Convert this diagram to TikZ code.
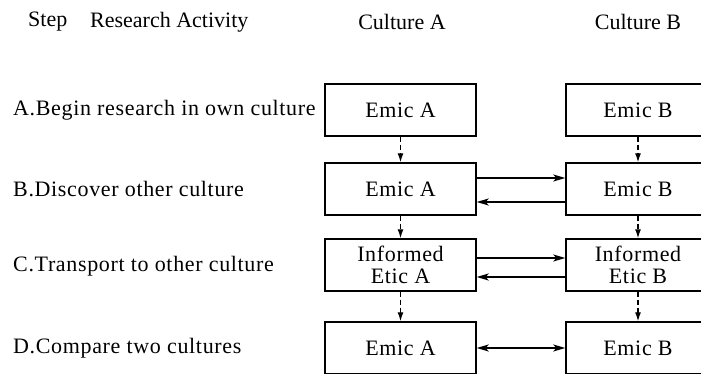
\documentclass[tikz,border=0pt]{standalone}
\usepackage{fontspec}
\setmainfont{Liberation Serif}
\newfontfamily\tms[LetterSpace=3]{Liberation Serif}
\newfontfamily\tmsh{Liberation Serif}
\usetikzlibrary{arrows.meta}
\begin{document}
\begin{tikzpicture}[x=1pt,y=-1pt,
  every node/.style={font=\tms\fontsize{22}{22}\selectfont, inner sep=0pt},
  head/.style={font=\tmsh\fontsize{22}{22}\selectfont},
  box/.style={draw, line width=1.4pt, minimum height=52pt, align=center},
  boxa/.style={box, minimum width=151pt},
  boxb/.style={box, minimum width=144pt},
  lbl/.style={anchor=west},
  down/.style={line width=1.3pt, dash pattern=on 5pt off 3pt, -{Latex[length=9pt,width=6pt]}},
  side/.style={line width=1.4pt, -{Stealth[length=12pt,width=7pt,inset=3pt]}},
  both/.style={line width=1.4pt, {Stealth[length=12pt,width=7pt,inset=3pt]}-{Stealth[length=12pt,width=7pt,inset=3pt]}}]
\useasboundingbox (0,0) rectangle (701,374);
\clip (0,0) rectangle (701,374);
% header
\node[head, anchor=west] (hstep) at (28,22) {Step};
\node[head, anchor=west] (hact) at (90,22) {Research Activity};
\node[head] (hca) at (402,22) {Culture A};
\node[head] (hcb) at (638,22) {Culture B};
% step labels
\node[lbl] (la) at (13,110) {A.Begin research in own culture};
\node[lbl] (lb) at (13,189) {B.Discover other culture};
\node[lbl] (lc) at (13,266) {C.Transport to other culture};
\node[lbl] (ld) at (13,348) {D.Compare two cultures};
% boxes
\node[boxa] (a1) at (400.5,110) {Emic A};
\node[boxa] (a2) at (400.5,189) {Emic A};
\node[boxa] (a3) at (400.5,265) {Informed\\Etic A};
\node[boxa] (a4) at (400.5,348) {Emic A};
\node[boxb] (b1) at (638,110) {Emic B};
\node[boxb] (b2) at (638,189) {Emic B};
\node[boxb] (b3) at (638,265) {Informed\\Etic B};
\node[boxb] (b4) at (638,348) {Emic B};
% vertical dashed arrows
\draw[down] (a1.south) -- (a2.north);
\draw[down] (a2.south) -- (a3.north);
\draw[down] (a3.south) -- (a4.north);
\draw[down] (b1.south) -- (b2.north);
\draw[down] (b2.south) -- (b3.north);
\draw[down] (b3.south) -- (b4.north);
% horizontal arrows
\draw[side] ([yshift=11pt]a2.east) -- ([yshift=11pt]b2.west);
\draw[side] ([yshift=-13pt]b2.west) -- ([yshift=-13pt]a2.east);
\draw[side] ([yshift=7pt]a3.east) -- ([yshift=7pt]b3.west);
\draw[side] ([yshift=-12pt]b3.west) -- ([yshift=-12pt]a3.east);
\draw[both] (a4.east) -- (b4.west);
\end{tikzpicture}
\end{document}
